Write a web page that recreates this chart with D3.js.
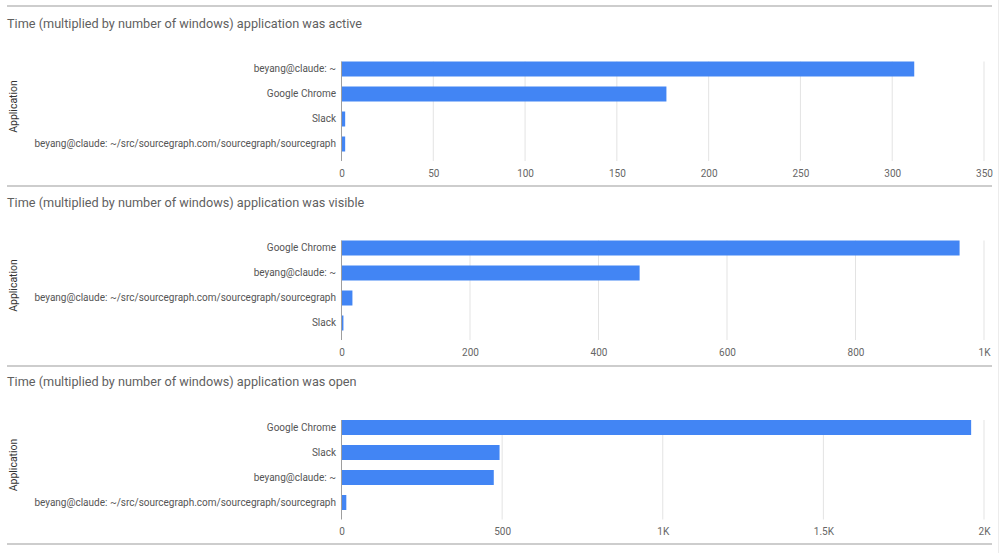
<!DOCTYPE html>
<html>
<head>
<meta charset="utf-8">
<script src="https://cdn.jsdelivr.net/npm/d3@7"></script>
<style>
  body { margin: 0; background: #fff; }
  text { font-family: Roboto, "Noto Sans", sans-serif; }
</style>
</head>
<body>
<div id="chart"></div>
<script>
// Chart data
const titles = [
  "Time (multiplied by number of windows) application was active",
  "Time (multiplied by number of windows) application was visible",
  "Time (multiplied by number of windows) application was open"
];

const activeApps = ["beyang@claude: ~", "Google Chrome", "Slack", "beyang@claude: ~/src/sourcegraph.com/sourcegraph/sourcegraph"];
const activeValues = [312, 177, 2, 2];
const activeTicks = [0, 50, 100, 150, 200, 250, 300, 350];
const activeTickLabels = ["0", "50", "100", "150", "200", "250", "300", "350"];

const visibleApps = ["Google Chrome", "beyang@claude: ~", "beyang@claude: ~/src/sourcegraph.com/sourcegraph/sourcegraph", "Slack"];
const visibleValues = [962, 464, 17, 3];
const visibleTicks = [0, 200, 400, 600, 800, 1000];
const visibleTickLabels = ["0", "200", "400", "600", "800", "1K"];

const openApps = ["Google Chrome", "Slack", "beyang@claude: ~", "beyang@claude: ~/src/sourcegraph.com/sourcegraph/sourcegraph"];
const openValues = [1960, 492, 474, 15];
const openTicks = [0, 500, 1000, 1500, 2000];
const openTickLabels = ["0", "500", "1K", "1.5K", "2K"];

const axisTitle = "Application";

const panels = [
  {title: titles[0], apps: activeApps, values: activeValues, ticks: activeTicks, labels: activeTickLabels},
  {title: titles[1], apps: visibleApps, values: visibleValues, ticks: visibleTicks, labels: visibleTickLabels},
  {title: titles[2], apps: openApps, values: openValues, ticks: openTicks, labels: openTickLabels}
];

const width = 1000, height = 553;
const panelTops = [7, 186, 365.5];
const separators = [6, 186, 366, 544];

let svg = d3.select("#chart").append("svg")
    .attr("width", width)
    .attr("height", height);

// faint scroll edge on the right
svg.append("line")
    .attr("x1", 998.5).attr("x2", 998.5)
    .attr("y1", 0).attr("y2", height)
    .style("stroke", "#ececec");

// separators between panels
svg.selectAll(".sep")
    .data(separators)
    .enter().append("line")
    .attr("class", "sep")
    .attr("x1", 7).attr("x2", 992)
    .attr("y1", d => d).attr("y2", d => d)
    .style("stroke", "#bdbdbd")
    .style("stroke-width", 1.5);

panels.forEach((p, i) => {
    let g = svg.append("g")
        .attr("transform", "translate(0," + panelTops[i] + ")");

    //Title
    g.append("text")
        .attr("x", 7)
        .attr("y", 20.5)
        .text(p.title)
        .style("font-size", "12.7px")
        .style("fill", "#5f5f5f");

    let x = d3.scaleLinear()
        .domain([0, p.ticks[p.ticks.length - 1]])
        .range([341.5, 984]);

    let y = d3.scaleBand()
        .domain(p.apps)
        .range([49.5, 149.5])
        .paddingInner(0.4)
        .paddingOuter(0.2);

    let gridTop = 54.5, gridBottom = 154;

    //Gridlines
    g.append("g")
        .selectAll("line")
        .data(p.ticks.slice(1))
        .enter().append("line")
        .attr("x1", d => x(d)).attr("x2", d => x(d))
        .attr("y1", gridTop).attr("y2", gridBottom)
        .style("stroke", "#e3e3e3");

    //X axis tick labels
    let xAxis = g.append("g")
        .attr("transform", "translate(0," + gridBottom + ")")
        .call(d3.axisBottom(x)
            .tickValues(p.ticks)
            .tickFormat((d, k) => p.labels[k])
            .tickSize(0)
            .tickPadding(8.5));
    xAxis.select(".domain").remove();
    xAxis.selectAll("text")
        .style("font-family", "Roboto, sans-serif")
        .style("font-size", "10px")
        .style("fill", "#666");

    //Bars
    g.append("g")
        .selectAll("rect")
        .data(p.values)
        .enter().append("rect")
        .attr("x", x(0))
        .attr("y", (d, k) => y(p.apps[k]))
        .attr("width", d => x(d) - x(0))
        .attr("height", y.bandwidth())
        .attr("fill", "#4285f4");

    //Baseline
    g.append("line")
        .attr("x1", x(0)).attr("x2", x(0))
        .attr("y1", gridTop).attr("y2", gridBottom)
        .style("stroke", "#9e9e9e");

    //Category labels
    let yAxis = g.append("g")
        .attr("transform", "translate(" + x(0) + ",0)")
        .call(d3.axisLeft(y).tickSize(0).tickPadding(5.5));
    yAxis.select(".domain").remove();
    yAxis.selectAll("text")
        .style("font-family", "Roboto, sans-serif")
        .style("font-size", "10px")
        .style("fill", "#555");

    //Label for y axis
    g.append("text")
        .attr("transform", "rotate(-90)")
        .attr("x", -99.5)
        .attr("y", 13)
        .attr("dy", "0.35em")
        .style("text-anchor", "middle")
        .style("font-size", "10.5px")
        .style("fill", "#333")
        .text(axisTitle);
});
</script>
</body>
</html>
